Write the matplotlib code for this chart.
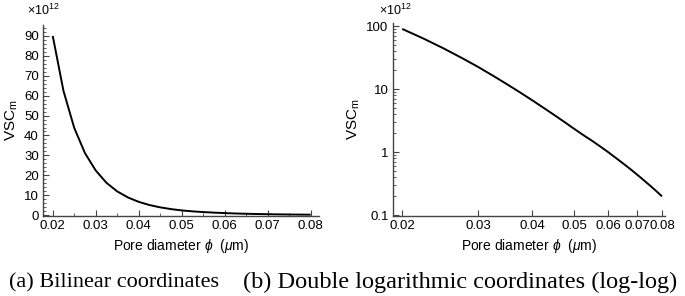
import matplotlib
matplotlib.use("Agg")
import matplotlib.pyplot as plt
import numpy as np
from matplotlib.ticker import MultipleLocator, FixedLocator, FixedFormatter, LogLocator, NullFormatter, NullLocator

plt.rcParams['font.family'] = ['Liberation Sans', 'DejaVu Sans']
plt.rcParams['mathtext.fontset'] = 'custom'
plt.rcParams['mathtext.it'] = 'Liberation Sans:italic'
plt.rcParams['mathtext.rm'] = 'Liberation Sans'

# Data (VSC_m in units of 1e12)
pore_diameter = [0.02, 0.0225, 0.025, 0.0275, 0.03, 0.0325, 0.035, 0.0375, 0.04,
                 0.0425, 0.045, 0.0475, 0.05, 0.0525, 0.055, 0.0575, 0.06,
                 0.0625, 0.065, 0.0675, 0.07, 0.0725, 0.075, 0.0775, 0.08]
vsc_m = [90.0, 62.4, 43.8, 31.1, 22.4, 16.2, 11.9, 8.85, 6.65,
         5.05, 3.88, 3.01, 2.35, 1.87, 1.52, 1.23, 1.0,
         0.81, 0.66, 0.54, 0.44, 0.36, 0.295, 0.242, 0.198]

x_ticks = [0.02, 0.03, 0.04, 0.05, 0.06, 0.07, 0.08]
x_tick_labels = ["0.02", "0.03", "0.04", "0.05", "0.06", "0.07", "0.08"]
y_ticks_lin = [0, 10, 20, 30, 40, 50, 60, 70, 80, 90]
y_ticks_log = [0.1, 1, 10, 100]
y_tick_labels_log = ["0.1", "1", "10", "100"]
captions = ["(a) Bilinear coordinates", "(b) Double logarithmic coordinates (log-log)"]

fig = plt.figure(figsize=(6.85, 2.96), dpi=100)
ax1 = fig.add_axes([0.0628, 0.270, 0.4029, 0.6455])
ax2 = fig.add_axes([0.5733, 0.270, 0.3975, 0.6522])

fs = 9.5
xlabel = r"Pore diameter $\phi$  ($\mu$m)"
ylabel = r"VSC$_\mathregular{m}$"

for ax in (ax1, ax2):
    for s in ("top", "right"):
        ax.spines[s].set_visible(False)
    for s in ("left", "bottom"):
        ax.spines[s].set_color("#444444")
        ax.spines[s].set_linewidth(1.0)
    ax.tick_params(which="both", direction="in", colors="#444444", labelcolor="black",
                   labelsize=fs, pad=3)
    ax.tick_params(which="major", length=4, width=0.8)
    ax.tick_params(which="minor", length=2, width=0.6)
    ax.set_xlabel(xlabel, fontsize=10, labelpad=3.5)
    ax.set_ylabel(ylabel, fontsize=11, labelpad=3)

# Left: linear
ax1.plot(pore_diameter, vsc_m, color="black", lw=1.4, solid_capstyle="butt")
ax1.set_xlim(0.01774, 0.08193)
ax1.set_ylim(-0.5, 95.5)
ax1.xaxis.set_major_locator(FixedLocator(x_ticks))
ax1.xaxis.set_major_formatter(FixedFormatter(x_tick_labels))
ax1.xaxis.set_minor_locator(MultipleLocator(0.005))
ax1.yaxis.set_major_locator(FixedLocator(y_ticks_lin))
ax1.yaxis.set_minor_locator(MultipleLocator(2))
ax1.text(0.040, 0.99, r"$\times$10$^{12}$", transform=fig.transFigure,
         fontsize=9, va="top", ha="left")

# Right: log-log
ax2.plot(pore_diameter, vsc_m, color="black", lw=1.4, solid_capstyle="butt")
ax2.set_xscale("log")
ax2.set_yscale("log")
ax2.set_xlim(0.01901, 0.08129)
ax2.set_ylim(0.0964, 111.6)
ax2.xaxis.set_major_locator(FixedLocator(x_ticks))
ax2.xaxis.set_major_formatter(FixedFormatter(x_tick_labels))
ax2.xaxis.set_minor_locator(NullLocator())
ax2.yaxis.set_major_locator(FixedLocator(y_ticks_log))
ax2.yaxis.set_major_formatter(FixedFormatter(y_tick_labels_log))
ax2.yaxis.set_minor_locator(LogLocator(base=10, subs=np.arange(2, 10)))
ax2.yaxis.set_minor_formatter(NullFormatter())
ax2.text(0.553, 0.99, r"$\times$10$^{12}$", transform=fig.transFigure,
         fontsize=9, va="top", ha="left")

fig.text(0.167, 0.045, captions[0], family="Liberation Serif", fontsize=16,
         ha="center", va="center")
fig.text(0.6715, 0.045, captions[1], family="Liberation Serif", fontsize=17.5,
         ha="center", va="center")

fig.savefig("out.png", dpi=100)
